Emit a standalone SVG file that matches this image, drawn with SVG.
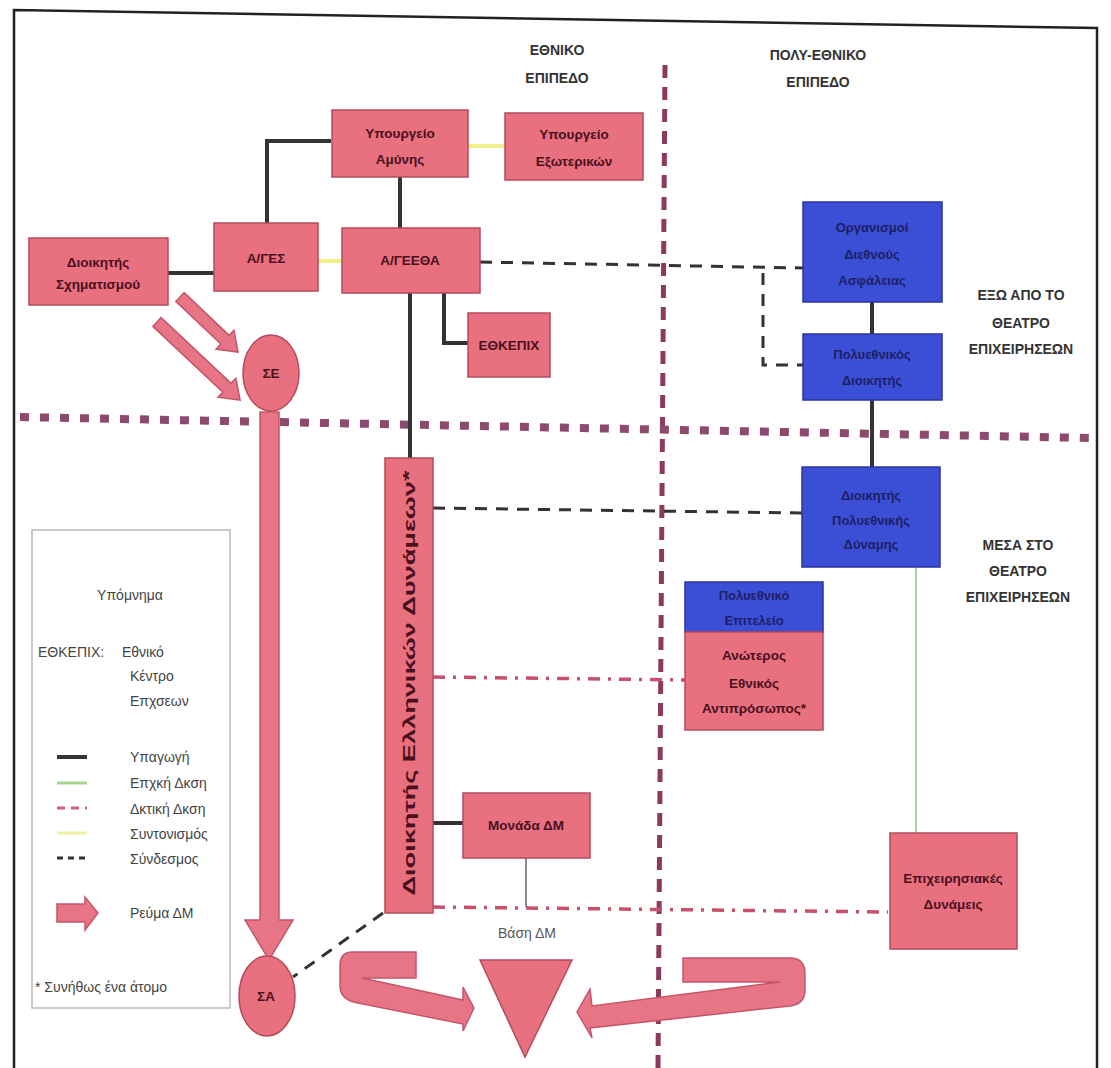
<svg xmlns="http://www.w3.org/2000/svg" width="1111" height="1068" viewBox="0 0 1111 1068">
<defs>
<style>
.pk{fill:#e9707f;stroke:#b44a5c;stroke-width:1.5}
.bl{fill:#3b4fd6;stroke:#2b35a0;stroke-width:1.5}
.arr{fill:#e87585;stroke:#c4566a;stroke-width:1.5}
.t{font-family:"Liberation Sans",Arial,sans-serif;font-size:13.5px;font-weight:bold;fill:#4a1020;text-anchor:middle}
.tb{font-family:"Liberation Sans",Arial,sans-serif;font-size:13px;font-weight:bold;fill:#1e1e66;text-anchor:middle}
.h{font-family:"Liberation Sans",Arial,sans-serif;font-size:14px;font-weight:bold;fill:#333;text-anchor:middle}
.lg{font-family:"Liberation Sans",Arial,sans-serif;font-size:14px;fill:#444}
.sub{stroke:#333;stroke-width:4;fill:none}
.coord{stroke:#f2f08a;stroke-width:4;fill:none}
.link{stroke:#333;stroke-width:3;stroke-dasharray:12 9;fill:none}
.adm{stroke:#c8506a;stroke-width:3.5;stroke-dasharray:12 8 3 8;fill:none}
.op{stroke:#86c47e;stroke-width:1.5;fill:none}
.vdiv{stroke:#8b3a5e;stroke-width:5;stroke-dasharray:13 9;fill:none}
.hdiv{stroke:#8b4a6e;stroke-width:8;stroke-dasharray:9 11;fill:none}
</style>
</defs>
<rect width="1111" height="1068" fill="#fff"/>
<path d="M14,1068 L14,10 L1097,28 L1097,1068" fill="none" stroke="#222" stroke-width="2.5"/>

<g id="dividers">
<line class="vdiv" x1="665" y1="65" x2="658" y2="1068"/>
<line class="hdiv" x1="20" y1="417" x2="1090" y2="438"/>
</g>

<g id="headers">
<text class="h" x="557" y="55">ΕΘΝΙΚΟ</text>
<text class="h" x="557" y="83">ΕΠΙΠΕΔΟ</text>
<text class="h" x="818" y="60">ΠΟΛΥ-ΕΘΝΙΚΟ</text>
<text class="h" x="818" y="87">ΕΠΙΠΕΔΟ</text>
<text class="h" x="1021" y="300">ΕΞΩ ΑΠΟ ΤΟ</text>
<text class="h" x="1021" y="328">ΘΕΑΤΡΟ</text>
<text class="h" x="1021" y="354">ΕΠΙΧΕΙΡΗΣΕΩΝ</text>
<text class="h" x="1018" y="550">ΜΕΣΑ ΣΤΟ</text>
<text class="h" x="1018" y="576">ΘΕΑΤΡΟ</text>
<text class="h" x="1018" y="602">ΕΠΙΧΕΙΡΗΣΕΩΝ</text>
</g>

<g id="connectors">
<polyline class="sub" points="267,223 267,141 331,141"/>
<line class="sub" x1="400" y1="177" x2="400" y2="228"/>
<line class="sub" x1="168" y1="273" x2="214" y2="273"/>
<line class="sub" x1="410" y1="293" x2="410" y2="458"/>
<polyline class="sub" points="444,293 444,343 468,343"/>
<line class="sub" x1="433" y1="823" x2="463" y2="823"/>
<line class="sub" x1="872" y1="302" x2="872" y2="334"/>
<line class="sub" x1="872" y1="400" x2="872" y2="467"/>
<line class="coord" x1="468" y1="146" x2="505" y2="146"/>
<line class="coord" x1="318" y1="261" x2="342" y2="261"/>
<line class="link" x1="480" y1="262" x2="803" y2="268"/>
<polyline class="link" points="763,273 763,365 803,365"/>
<line class="link" x1="433" y1="508" x2="802" y2="513"/>
<line class="link" x1="383" y1="913" x2="293" y2="977"/>
<line class="adm" x1="433" y1="677" x2="685" y2="680"/>
<line class="adm" x1="433" y1="907" x2="888" y2="912"/>
<line x1="526" y1="858" x2="526" y2="907" stroke="#666" stroke-width="1.5"/>
<line class="op" x1="916" y1="567" x2="916" y2="833"/>
</g>

<g id="flows">
<polygon class="arr" transform="translate(180,297) rotate(43.5)" points="0,-6 62,-6 62,-13 80,0 62,13 62,6 0,6"/>
<polygon class="arr" transform="translate(157,322) rotate(43.2)" points="0,-6 96,-6 96,-13 114,0 96,13 96,6 0,6"/>
<polygon class="arr" points="260,412 279,412 279,920 293,920 269,960 245,920 260,920"/>
<path class="arr" d="M416,952 L352,952 Q340,952 340,966 L340,986 Q340,1000 358,1003 L463,1024 L463,1031 L474,1008 L463,987 L463,1000 L362,978 L416,978 Z"/>
<path class="arr" d="M683,958 L790,958 Q805,958 805,974 L805,990 Q805,1004 790,1006 L590,1028 L592,1038 L577,1012 L590,989 L592,1006 L780,982 L683,982 Z"/>
</g>

<g id="n-ypamynis"><rect class="pk" x="332" y="110" width="136" height="67"/>
<text class="t" x="400" y="138">Υπουργείο</text><text class="t" x="400" y="164">Αμύνης</text></g>
<g id="n-ypexoterikon"><rect class="pk" x="505" y="113" width="138" height="67"/>
<text class="t" x="574" y="139">Υπουργείο</text><text class="t" x="574" y="166">Εξωτερικών</text></g>
<g id="n-ages"><rect class="pk" x="214" y="223" width="104" height="68"/>
<text class="t" x="266" y="263">Α/ΓΕΣ</text></g>
<g id="n-ageetha"><rect class="pk" x="342" y="228" width="138" height="65"/>
<text class="t" x="410" y="265">Α/ΓΕΕΘΑ</text></g>
<g id="n-dschim"><rect class="pk" x="29" y="238" width="139" height="67"/>
<text class="t" x="98" y="267">Διοικητής</text><text class="t" x="98" y="289">Σχηματισμού</text></g>
<g id="n-ethkepix"><rect class="pk" x="468" y="313" width="82" height="64"/>
<text class="t" x="509" y="350">ΕΘΚΕΠΙΧ</text></g>
<g id="n-se"><ellipse class="pk" cx="271" cy="373" rx="28" ry="38"/>
<text class="t" x="271" y="378">ΣΕ</text></g>
<g id="n-sa"><ellipse class="pk" cx="267" cy="996" rx="28" ry="40"/>
<text class="t" x="266" y="1001">ΣΑ</text></g>
<g id="n-delldyn"><rect class="pk" x="385" y="458" width="48" height="455"/>
<text class="t" transform="translate(409,683) rotate(-90)" x="0" y="5.5" style="font-size:16px" textLength="425" lengthAdjust="spacingAndGlyphs">Διοικητής Ελληνικών Δυνάμεων*</text></g>
<g id="n-monadadm"><rect class="pk" x="463" y="793" width="127" height="65"/>
<text class="t" x="526" y="830">Μονάδα ΔΜ</text></g>
<g id="n-vasidm"><polygon class="pk" points="480,960 572,960 525,1057"/>
<text class="lg" x="527" y="938" text-anchor="middle" style="fill:#555">Βάση ΔΜ</text></g>
<g id="n-organismoi"><rect class="bl" x="803" y="202" width="139" height="100"/>
<text class="tb" x="872" y="232">Οργανισμοί</text><text class="tb" x="872" y="259">Διεθνούς</text><text class="tb" x="872" y="285">Ασφάλειας</text></g>
<g id="n-polyd"><rect class="bl" x="803" y="334" width="139" height="66"/>
<text class="tb" x="872" y="359">Πολυεθνικός</text><text class="tb" x="872" y="385">Διοικητής</text></g>
<g id="n-dpolydyn"><rect class="bl" x="802" y="467" width="138" height="100"/>
<text class="tb" x="871" y="500">Διοικητής</text><text class="tb" x="871" y="525">Πολυεθνικής</text><text class="tb" x="871" y="549">Δύναμης</text></g>
<g id="n-anoteros"><rect class="bl" x="685" y="582" width="138" height="50"/>
<rect class="pk" x="685" y="632" width="138" height="98"/>
<text class="tb" x="754" y="600">Πολυεθνικό</text><text class="tb" x="754" y="625">Επιτελείο</text>
<text class="t" x="754" y="660">Ανώτερος</text><text class="t" x="754" y="688">Εθνικός</text><text class="t" x="754" y="713">Αντιπρόσωπος*</text></g>
<g id="n-epixdyn"><rect class="pk" x="890" y="833" width="127" height="116"/>
<text class="t" x="953" y="883">Επιχειρησιακές</text><text class="t" x="953" y="909">Δυνάμεις</text></g>

<g id="legend">
<rect x="32" y="530" width="198" height="478" fill="none" stroke="#bbb" stroke-width="1.5"/>
<text class="lg" x="130" y="600" text-anchor="middle">Υπόμνημα</text>
<text class="lg" x="38" y="657">ΕΘΚΕΠΙΧ:</text>
<text class="lg" x="122" y="657">Εθνικό</text>
<text class="lg" x="130" y="681">Κέντρο</text>
<text class="lg" x="130" y="706">Επχσεων</text>
<line x1="57" y1="757" x2="87" y2="757" stroke="#333" stroke-width="4"/>
<line x1="57" y1="783" x2="87" y2="783" stroke="#a6d48e" stroke-width="3"/>
<line x1="57" y1="808" x2="87" y2="808" stroke="#d06080" stroke-width="3" stroke-dasharray="8 6"/>
<line x1="57" y1="833" x2="87" y2="833" stroke="#f2f0a0" stroke-width="3"/>
<line x1="57" y1="858" x2="87" y2="858" stroke="#333" stroke-width="3" stroke-dasharray="6 5"/>
<text class="lg" x="130" y="762">Υπαγωγή</text>
<text class="lg" x="130" y="788">Επχκή Δκση</text>
<text class="lg" x="130" y="814">Δκτική Δκση</text>
<text class="lg" x="130" y="839">Συντονισμός</text>
<text class="lg" x="130" y="864">Σύνδεσμος</text>
<polygon class="arr" points="57,904 85,904 85,897 98,913 85,930 85,922 57,922"/>
<text class="lg" x="130" y="918">Ρεύμα ΔΜ</text>
<text class="lg" x="35" y="992">* Συνήθως ένα άτομο</text>
</g>
</svg>
